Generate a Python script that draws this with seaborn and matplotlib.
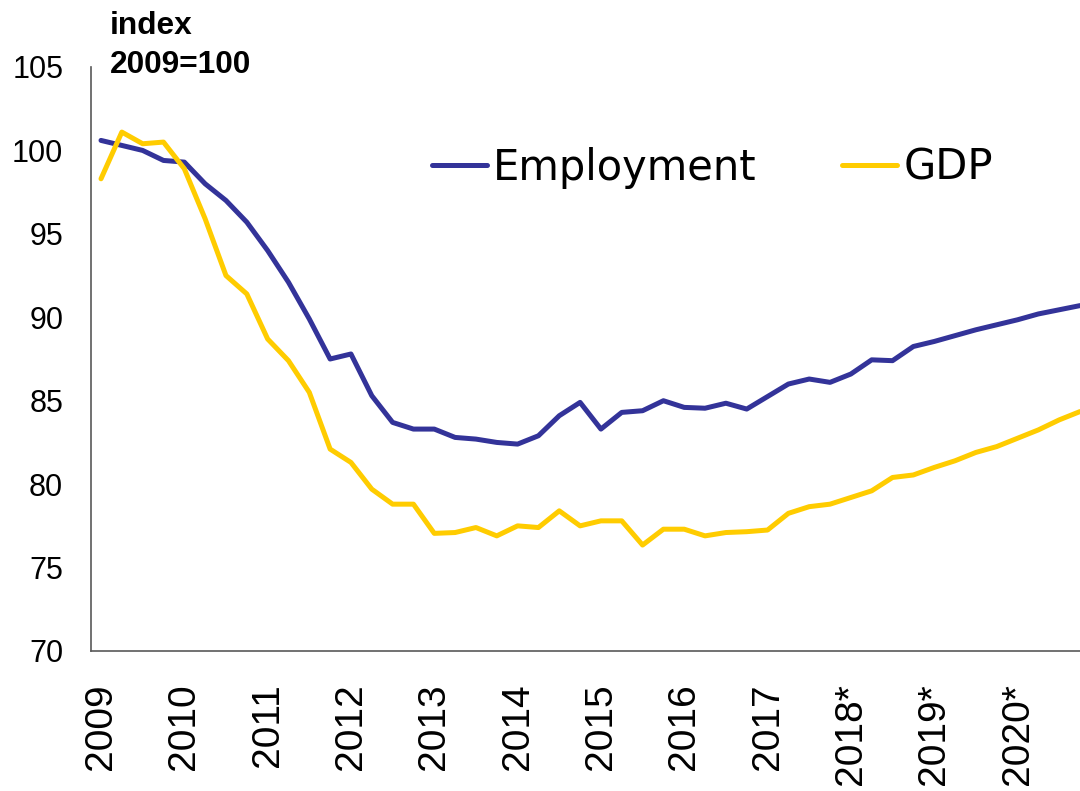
import matplotlib
matplotlib.use("Agg")
import matplotlib.pyplot as plt
import numpy as np
import pandas as pd
import seaborn as sns

# quarterly index values, 2009Q1 .. 2020Q4 (2009=100)
employment = [100.6, 100.3, 100.0, 99.4, 99.3, 98.0, 97.0, 95.7,
              94.0, 92.1, 89.9, 87.5, 87.8, 85.3, 83.7, 83.3,
              83.3, 82.8, 82.7, 82.5, 82.4, 82.9, 84.1, 84.9,
              83.3, 84.3, 84.4, 85.0, 84.6, 84.55, 84.85, 84.5,
              85.25, 86.0, 86.3, 86.1, 86.6, 87.45, 87.4, 88.25,
              88.55, 88.9, 89.25, 89.55, 89.85, 90.2, 90.45, 90.7]
gdp = [98.3, 101.1, 100.4, 100.5, 98.9, 95.9, 92.5, 91.4,
       88.7, 87.4, 85.5, 82.1, 81.3, 79.7, 78.8, 78.8,
       77.05, 77.1, 77.4, 76.9, 77.5, 77.4, 78.4, 77.5,
       77.8, 77.8, 76.35, 77.3, 77.3, 76.9, 77.1, 77.15,
       77.25, 78.25, 78.65, 78.8, 79.2, 79.6, 80.4, 80.55,
       81.0, 81.4, 81.9, 82.25, 82.75, 83.25, 83.85, 84.35]
year_labels = ["2009", "2010", "2011", "2012", "2013", "2014", "2015",
               "2016", "2017", "2018*", "2019*", "2020*"]
series_names = ["Employment", "GDP"]
colors = {"Employment": "#333399", "GDP": "#FFCC00"}

quarters = np.arange(len(employment))
df = pd.DataFrame({
    "quarter": np.concatenate([quarters, quarters]),
    "value": employment + gdp,
    "series": [series_names[0]] * len(employment) + [series_names[1]] * len(gdp),
})

sns.set_theme(style="white")
plt.rcParams["font.family"] = ["Liberation Sans", "DejaVu Sans"]
plt.rcParams.update({
    "text.color": "black",
    "xtick.color": "black",
    "ytick.color": "black",
    "xtick.labelcolor": "black",
    "ytick.labelcolor": "black",
})

fig = plt.figure(figsize=(10.8, 7.91), dpi=100)
ax = fig.add_axes([91 / 1080, 140 / 791, 1 - 91 / 1080, (651 - 67) / 791])

sns.lineplot(data=df, x="quarter", y="value", hue="series", palette=colors,
             linewidth=3.6, ax=ax)

ax.set_xlim(-0.48, 47)
ax.set_ylim(70, 105)
ax.set_yticks(np.arange(70, 106, 5))
ax.set_xticks(quarters[::4])
ax.set_xticklabels(year_labels, rotation=90, fontsize=28)
ax.tick_params(axis="y", labelsize=22, length=0, pad=20)
ax.tick_params(axis="x", length=0, pad=23)
ax.set_xlabel("")
ax.set_ylabel("")

for side in ["top", "right"]:
    ax.spines[side].set_visible(False)
for side in ["left", "bottom"]:
    ax.spines[side].set_color("#595959")
    ax.spines[side].set_linewidth(1.2)

leg = ax.legend(loc="center left", bbox_to_anchor=(432 / 1080, 1 - 168 / 791),
                bbox_transform=fig.transFigure, ncol=2, frameon=False,
                handlelength=1.32, handletextpad=0.15,
                columnspacing=2.05, borderpad=0, borderaxespad=0,
                prop={"family": "DejaVu Sans", "size": 30})
for line in leg.get_lines():
    line.set_linewidth(3.6)
for txt in leg.get_texts():
    txt.set_color("black")

fig.text(110 / 1080, 1 - 34 / 791, "index", ha="left", va="baseline",
         fontsize=22.8, fontweight="bold", color="black")
fig.text(110 / 1080, 1 - 73 / 791, "2009=100", ha="left", va="baseline",
         fontsize=22.8, fontweight="bold", color="black")

fig.savefig("out.png", dpi=100)
